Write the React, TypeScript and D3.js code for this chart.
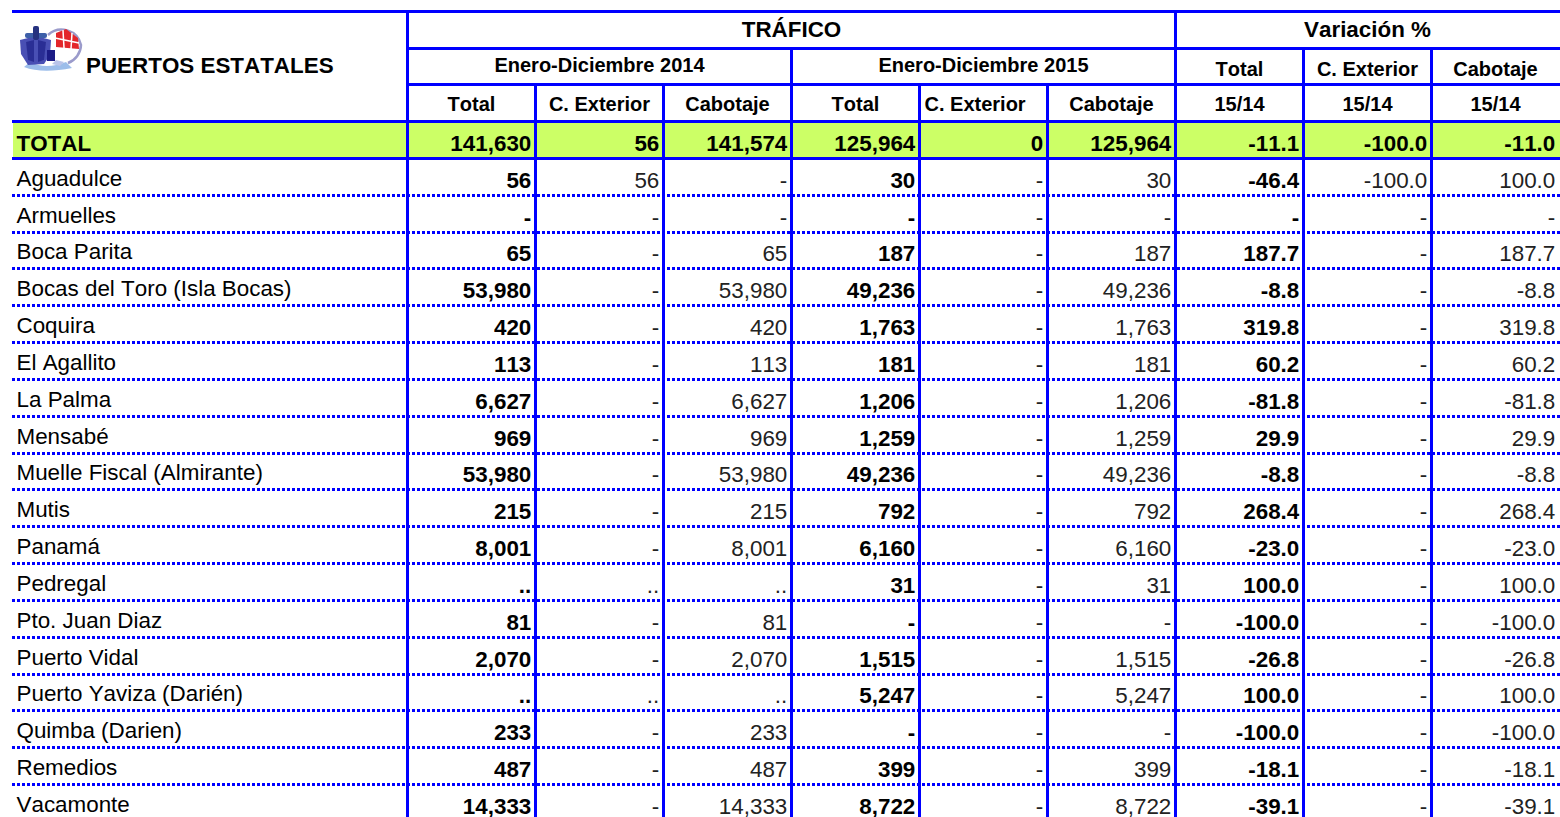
import React from 'react';
import * as d3 from 'd3';

const ports = ['Aguadulce', 'Armuelles', 'Boca Parita', 'Bocas del Toro (Isla Bocas)', 'Coquira', 'El Agallito', 'La Palma', 'Mensabé', 'Muelle Fiscal (Almirante)', 'Mutis', 'Panamá', 'Pedregal', 'Pto. Juan Diaz', 'Puerto Vidal', 'Puerto Yaviza (Darién)', 'Quimba (Darien)', 'Remedios', 'Vacamonte'];

const total2014 = ['56', '-', '65', '53,980', '420', '113', '6,627', '969', '53,980', '215', '8,001', '..', '81', '2,070', '..', '233', '487', '14,333'];
const ext2014 = ['56', '-', '-', '-', '-', '-', '-', '-', '-', '-', '-', '..', '-', '-', '..', '-', '-', '-'];
const cab2014 = ['-', '-', '65', '53,980', '420', '113', '6,627', '969', '53,980', '215', '8,001', '..', '81', '2,070', '..', '233', '487', '14,333'];
const total2015 = ['30', '-', '187', '49,236', '1,763', '181', '1,206', '1,259', '49,236', '792', '6,160', '31', '-', '1,515', '5,247', '-', '399', '8,722'];
const ext2015 = ['-', '-', '-', '-', '-', '-', '-', '-', '-', '-', '-', '-', '-', '-', '-', '-', '-', '-'];
const cab2015 = ['30', '-', '187', '49,236', '1,763', '181', '1,206', '1,259', '49,236', '792', '6,160', '31', '-', '1,515', '5,247', '-', '399', '8,722'];
const varTotal = ['-46.4', '-', '187.7', '-8.8', '319.8', '60.2', '-81.8', '29.9', '-8.8', '268.4', '-23.0', '100.0', '-100.0', '-26.8', '100.0', '-100.0', '-18.1', '-39.1'];
const varExt = ['-100.0', '-', '-', '-', '-', '-', '-', '-', '-', '-', '-', '-', '-', '-', '-', '-', '-', '-'];
const varCab = ['100.0', '-', '187.7', '-8.8', '319.8', '60.2', '-81.8', '29.9', '-8.8', '268.4', '-23.0', '100.0', '-100.0', '-26.8', '100.0', '-100.0', '-18.1', '-39.1'];

const columns = [total2014, ext2014, cab2014, total2015, ext2015, cab2015, varTotal, varExt, varCab];
const boldCols = [0, 3, 6];
const totalRow = ['141,630', '56', '141,574', '125,964', '0', '125,964', '-11.1', '-100.0', '-11.0'];
const subHeads = ['Total', 'C. Exterior', 'Cabotaje', 'Total', 'C. Exterior', 'Cabotaje', '15/14', '15/14', '15/14'];
const varHeads = ['Total', 'C. Exterior', 'Cabotaje'];

const BLUE = '#0000ff';
const FONT = '"Liberation Sans", Arial, sans-serif';

export default function App() {
  const x = d3.scaleLinear().domain([0, 9]).range([407.5, 1559.5]);
  const y = d3.scaleLinear().domain([0, 18]).range([158.5, 821.3]);
  // rules sit on whole pixels so the 3px strokes stay sharp
  const rowLine = (r: number) => Math.floor(y(r)) + 0.5;

  return (
    <svg width={1560} height={817} style={{ position: 'absolute', left: 0, top: 0, background: '#fff', fontKerning: 'none' }} fontFamily={FONT} fill="#000">
      <defs>
        <filter id="soft" x="-10%" y="-10%" width="120%" height="120%">
          <feGaussianBlur stdDeviation="0.7" />
        </filter>
      </defs>

      {/* total band */}
      <rect x={13} y={122} width={1547} height={36} fill="#ccff66" />

      {/* logo */}
      <g filter="url(#soft)">
        <path d="M24 67 Q42 74 72 68 L66 62 Q46 70 30 62 Z" fill="#9cbdea" />
        <path d="M20 40 L36 36 L51 40 L50 55 L44 64 L28 65 L21 54 Z" fill="#4a50b4" />
        <path d="M26 42 L34 40 L34 62 L28 60 Z M38 40 L46 42 L44 60 L38 62 Z" fill="#2c2f95" />
        <rect x={25} y={33} width={22} height={5} rx={2} fill="#3d5fa8" />
        <rect x={33} y={26} width={6} height={14} rx={2} fill="#25307f" />
        <path d="M47 50 L55 50 L55 61 L47 61 Z" fill="#1c1f86" />
        <path d="M56 60 L64 62 L60 66 L52 64 Z" fill="#b9c4ea" />
        <path d="M48 35 A20 20 0 0 1 81 45 A20 20 0 0 1 68 63" fill="none" stroke="#9b9bcb" strokeWidth={2.5} />
        <path d="M56 33 L66 29 L78 38 L79 49 L56 47 Z" fill="#e3262c" />
        <path d="M55 38 L79 43 M63 30 L64 48 M72 33 L71 49" stroke="#fff" strokeWidth={1.5} fill="none" />
      </g>

      {/* headers */}
      <g fontWeight="bold" fontSize={22.4}>
        <text x={86} y={73}>PUERTOS ESTATALES</text>
        <text x={x(3)} y={37} textAnchor="middle">TRÁFICO</text>
        <text x={x(7.5)} y={37} textAnchor="middle">Variación %</text>
      </g>
      <g fontWeight="bold" fontSize={20}>
        <text x={x(1.5)} y={72} textAnchor="middle">Enero-Diciembre 2014</text>
        <text x={x(4.5)} y={72} textAnchor="middle">Enero-Diciembre 2015</text>
        {varHeads.map((h, i) => (
          <text key={i} x={x(6.5 + i)} y={76} textAnchor="middle">{h}</text>
        ))}
        {subHeads.map((h, i) => (
          <text key={i} x={i === 4 ? x(4) + 5 : x(i + 0.5)} y={111} textAnchor={i === 4 ? 'start' : 'middle'}>{h}</text>
        ))}
      </g>

      {/* total row */}
      <g fontWeight="bold" fontSize={22.4}>
        <text x={16.5} y={151}>TOTAL</text>
        {totalRow.map((v, i) => (
          <text key={i} x={x(i + 1) - 4.2} y={151} textAnchor="end">{v}</text>
        ))}
      </g>

      {/* body */}
      <g fontSize={22.4}>
        {ports.map((p, r) => (
          <text key={p} x={16.5} y={y(r + 1) - 9.5}>{p}</text>
        ))}
        {columns.map((col, c) =>
          col.map((v, r) => (
            <text key={c + '-' + r} x={x(c + 1) - 4.2} y={y(r + 1) - 7.5} textAnchor="end"
              fontWeight={boldCols.includes(c) ? 'bold' : 'normal'} fill={boldCols.includes(c) ? '#000' : '#222'}>{v}</text>
          ))
        )}
      </g>

      {/* rules */}
      <g stroke={BLUE} fill="none" strokeWidth={3}>
        {d3.range(1, 18).map((r) => (
          <line key={r} x1={12} x2={1560} y1={rowLine(r)} y2={rowLine(r)} strokeDasharray="3 2" />
        ))}
        <line x1={12} x2={1560} y1={11.5} y2={11.5} />
        <line x1={x(0)} x2={1560} y1={48.5} y2={48.5} />
        <line x1={x(0)} x2={1560} y1={84.5} y2={84.5} />
        <line x1={12} x2={1560} y1={121.5} y2={121.5} />
        <line x1={12} x2={1560} y1={158.5} y2={158.5} />
        {d3.range(0, 9).map((c) => {
          const top = c === 0 || c === 6 ? 10 : c === 3 || c > 6 ? 48 : 84;
          return <line key={c} x1={x(c)} x2={x(c)} y1={top} y2={817} />;
        })}
      </g>
    </svg>
  );
}
